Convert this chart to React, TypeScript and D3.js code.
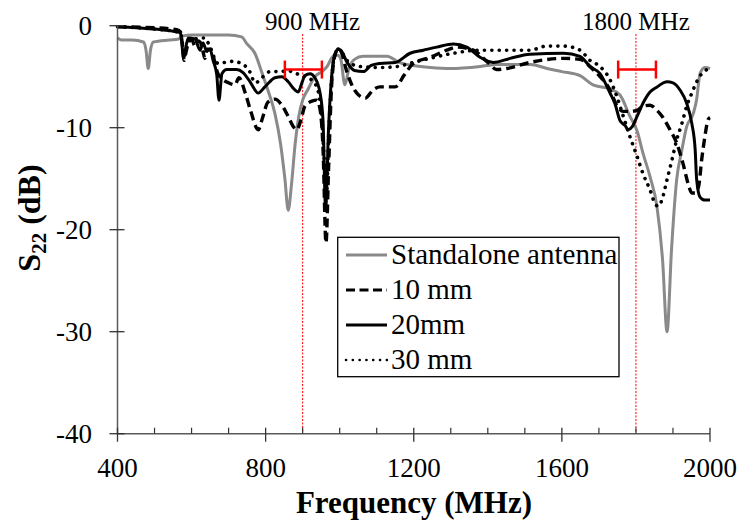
import React from "react";
import * as d3 from "d3";

type Pt = [number, number];

const standalone: Pt[] = [
  [400, -1.2], [410, -1.4], [440, -1.4], [470, -1.6], [477, -2.4], [483, -4.2], [489, -2.4], [497, -1.6],
  [540, -1.4], [565, -1.3], [578, -1.0], [600, -0.9], [700, -0.9], [735, -1.1], [750, -1.8], [771, -2.7],
  [790, -4.6], [806, -6.3], [825, -8.6], [840, -11.5], [852, -15], [861, -18.1], [870, -15.5], [880, -11.5],
  [890, -8.8], [900, -7.3], [915, -6.2], [933, -5.0], [952, -4.5], [966, -4.0], [982, -3.0], [995, -2.9],
  [1003, -3.3], [1014, -5.8], [1025, -4.2], [1040, -3.3], [1063, -3.0], [1128, -3.0], [1160, -3.6],
  [1198, -3.9], [1245, -4.1], [1300, -4.2], [1380, -4.0], [1425, -3.8], [1515, -3.8], [1560, -4.2],
  [1600, -4.5], [1649, -4.9], [1684, -5.8], [1730, -6.2], [1757, -6.8], [1784, -8.9], [1803, -10.3],
  [1819, -12.5], [1838, -14.8], [1857, -17.8], [1872, -23], [1884, -30], [1896, -22], [1910, -15.1],
  [1924, -12.2], [1937, -9.9], [1955, -8.6], [1964, -7.2], [1973, -4.7], [1986, -4.1], [2000, -4.2],
];

const mm10: Pt[] = [
  [400, -0.1], [500, -0.2], [560, -0.4], [570, -0.6], [575, -1.8], [580, -3.4], [585, -2.6], [592, -1.6],
  [601, -1.4], [609, -2.0], [616, -1.5], [623, -1.6], [630, -2.4], [636, -3.2], [642, -2.3], [650, -2.3],
  [660, -3.2], [670, -4.6], [685, -5.3], [700, -5.6], [717, -5.8], [728, -5.1], [745, -6.6], [760, -8.4],
  [780, -10.2], [792, -9.0], [806, -7.5], [825, -7.2], [844, -7.8], [861, -8.9], [875, -9.9], [884, -10.2],
  [895, -9.3], [906, -7.9], [925, -7.4], [938, -7.3], [947, -8.2], [955, -12], [963, -21.3], [970, -14],
  [978, -6], [988, -2.8], [996, -2.3], [1003, -2.5], [1020, -4.6], [1040, -6.3], [1069, -7.1], [1090, -6.3],
  [1109, -6.0], [1150, -6.0], [1175, -4.8], [1199, -3.7], [1244, -3.1], [1289, -2.4], [1316, -2.1], [1361, -2.4],
  [1400, -3.6], [1424, -4.3], [1451, -4.2], [1514, -3.6], [1604, -3.2], [1649, -3.3], [1684, -4.3],
  [1703, -5.0], [1730, -6.3], [1748, -7.8], [1766, -8.4], [1784, -8.4], [1803, -8.3], [1819, -7.9],
  [1838, -7.8], [1857, -8.3], [1873, -9.0], [1892, -10.2], [1910, -11.5], [1927, -13.5], [1941, -15.5],
  [1951, -16.4], [1960, -16.4], [1969, -15.8], [1978, -13], [1986, -10.9], [1995, -9.2], [2000, -9.0],
];

const mm20: Pt[] = [
  [400, -0.1], [450, -0.2], [520, -0.4], [560, -0.6], [570, -0.7], [574, -1.8], [578, -3.2], [583, -2.4],
  [591, -1.2], [609, -1.3], [623, -2.4], [631, -1.7], [641, -2.5], [650, -2.3], [658, -3.4], [668, -4.8],
  [674, -7.3], [682, -4.7], [695, -4.3], [722, -4.3], [739, -4.6], [758, -5.5], [780, -6.6], [798, -6.0],
  [825, -5.1], [844, -5.0], [861, -5.5], [879, -6.3], [888, -6.5], [898, -5.6], [906, -4.9], [920, -4.7],
  [933, -5.1], [947, -6.6], [955, -9.3], [962, -18], [970, -10], [980, -4.3], [988, -2.7], [996, -2.3],
  [1003, -2.4], [1020, -3.6], [1040, -4.4], [1064, -4.5], [1085, -3.9], [1109, -3.7], [1150, -3.6],
  [1190, -2.7], [1226, -2.4], [1262, -2.1], [1307, -1.8], [1343, -2.1], [1379, -3.1], [1415, -3.6],
  [1460, -3.2], [1514, -2.8], [1604, -2.7], [1649, -3.0], [1676, -4.0], [1703, -4.7], [1730, -6.6],
  [1743, -7.6], [1757, -9.3], [1771, -9.8], [1779, -10.2], [1790, -9.9], [1803, -8.9], [1819, -7.6],
  [1838, -6.5], [1857, -6.0], [1884, -5.5], [1900, -5.6], [1919, -6.3], [1937, -7.6], [1951, -9.6],
  [1960, -12.2], [1964, -15.1], [1973, -16.8], [1986, -17.1], [2000, -17.1],
];

const mm30: Pt[] = [
  [400, -0.1], [450, -0.2], [520, -0.4], [560, -0.6], [570, -0.7], [575, -1.6], [580, -3.0], [586, -2.2],
  [595, -1.4], [610, -1.3], [623, -1.2], [636, -1.2], [645, -1.7], [655, -2.5], [664, -3.4], [672, -3.7],
  [690, -3.6], [710, -3.5], [735, -3.7], [757, -4.5], [772, -5.6], [793, -5.0], [812, -4.5], [839, -4.5],
  [861, -4.4], [875, -4.6], [900, -4.9], [920, -5.2], [938, -6.0], [950, -8.5], [958, -13], [964, -17],
  [971, -10], [980, -4.5], [988, -2.7], [996, -2.3], [1003, -2.5], [1025, -3.6], [1055, -4.0], [1109, -4.1],
  [1155, -4.0], [1199, -3.6], [1244, -3.2], [1307, -2.7], [1379, -2.4], [1514, -2.4], [1559, -2.0],
  [1604, -2.0], [1649, -2.4], [1676, -3.4], [1703, -4.0], [1730, -5.3], [1748, -6.9], [1766, -8.9],
  [1784, -10.9], [1803, -12.8], [1819, -14.5], [1838, -16.1], [1851, -17.4], [1860, -17.7], [1870, -17.1],
  [1884, -15.1], [1897, -13.2], [1910, -11.2], [1924, -9.6], [1937, -7.9], [1951, -6.6], [1964, -5.5],
  [1978, -4.7], [1995, -4.3], [2000, -4.3],
];

const xMajorTicks = [400, 800, 1200, 1600, 2000];
const xMinorTicks = [500, 600, 700, 900, 1000, 1100, 1300, 1400, 1500, 1700, 1800, 1900];
const yTicks = [0, -10, -20, -30, -40];
const markerFreqs = [900, 1800];
const markerLabels = ["900 MHz", "1800 MHz"];
const bandRanges: [number, number][] = [[852, 952], [1752, 1854]];
const bandLevel = -4.3;

const legendLabels = ["Standalone antenna", "10 mm", "20mm", "30 mm"];

const FONT = '"Liberation Serif", "Times New Roman", Times, serif';
const tStyle = { fontFamily: FONT };

export default function App() {
  const x = d3.scaleLinear().domain([400, 2000]).range([117.5, 710]);
  const y = d3.scaleLinear().domain([-40, 0]).range([433.7, 25.7]);
  const line = d3
    .line<Pt>()
    .x((d) => x(d[0]))
    .y((d) => y(d[1]))
    .curve(d3.curveMonotoneX);

  const series = [
    { data: standalone, stroke: "#8a8a8a", width: 3, dash: undefined as string | undefined, cap: "butt" },
    { data: mm30, stroke: "#000", width: 3.6, dash: "0.1 7.3", cap: "round" },
    { data: mm20, stroke: "#000", width: 3, dash: undefined, cap: "butt" },
    { data: mm10, stroke: "#000", width: 3.4, dash: "9 5", cap: "butt" },
  ];

  const legendStyles = [
    { stroke: "#8a8a8a", width: 3, dash: undefined as string | undefined, cap: "butt" },
    { stroke: "#000", width: 3.2, dash: "9 4.5", cap: "butt" },
    { stroke: "#000", width: 3.2, dash: undefined, cap: "butt" },
    { stroke: "#000", width: 2.6, dash: "0.1 6.7", cap: "round" },
  ];

  const y0 = y(-40);
  const xL = x(400);

  return (
    <svg
      width={739}
      height={524}
      style={{ position: "absolute", left: 0, top: 0, background: "#fff", fontFamily: FONT }}
    >
      <rect x={0} y={0} width={739} height={524} fill="#fff" />

      {markerFreqs.map((f, i) => (
        <g key={"m" + i}>
          <line x1={x(f)} x2={x(f)} y1={34} y2={y0} stroke="#ff0000" strokeWidth={1} strokeDasharray="2 1.5" />
          <text x={x(f) + (i === 0 ? 10 : 0)} y={30} fontSize={25} textAnchor="middle" fill="#000" style={tStyle}>
            {markerLabels[i]}
          </text>
        </g>
      ))}

      {series.map((s, i) => (
        <path
          key={"s" + i}
          d={line(s.data) || ""}
          fill="none"
          stroke={s.stroke}
          strokeWidth={s.width}
          strokeDasharray={s.dash}
          strokeLinecap={s.cap as any}
          strokeLinejoin="round"
        />
      ))}

      {bandRanges.map((r, i) => (
        <g key={"b" + i} stroke="#ff0000" strokeWidth={2.5}>
          <line x1={x(r[0])} x2={x(r[1])} y1={y(bandLevel)} y2={y(bandLevel)} />
          <line x1={x(r[0])} x2={x(r[0])} y1={y(bandLevel) - 9} y2={y(bandLevel) + 9} />
          <line x1={x(r[1])} x2={x(r[1])} y1={y(bandLevel) - 9} y2={y(bandLevel) + 9} />
        </g>
      ))}

      <line x1={xL} x2={xL} y1={y(0)} y2={y0} stroke="#5a5a5a" strokeWidth={1.5} />
      <line x1={xL} x2={x(2000)} y1={y0} y2={y0} stroke="#5a5a5a" strokeWidth={1.5} />
      {yTicks.map((t) => (
        <g key={"yt" + t}>
          <line x1={xL - 8} x2={xL + 7} y1={y(t)} y2={y(t)} stroke="#333" strokeWidth={1.3} />
          <text x={92} y={y(t) + 9} fontSize={27} textAnchor="end" fill="#000" style={tStyle}>
            {t}
          </text>
        </g>
      ))}
      {xMajorTicks.map((t) => (
        <g key={"xt" + t}>
          <line x1={x(t)} x2={x(t)} y1={y0 - 6} y2={y0 + 8} stroke="#333" strokeWidth={1.3} />
          <text x={x(t)} y={477} fontSize={27} textAnchor="middle" fill="#000" style={tStyle}>
            {t}
          </text>
        </g>
      ))}
      {xMinorTicks.map((t) => (
        <line key={"xm" + t} x1={x(t)} x2={x(t)} y1={y0 - 6} y2={y0} stroke="#333" strokeWidth={1.2} />
      ))}

      <text x={414} y={513} fontSize={31} fontWeight="bold" textAnchor="middle" fill="#000" style={tStyle}>
        Frequency (MHz)
      </text>
      <text
        transform="translate(40,218) rotate(-90)"
        fontSize={32}
        fontWeight="bold"
        textAnchor="middle"
        fill="#000"
        style={tStyle}
      >
        S
        <tspan fontSize={21} dy={6}>
          22
        </tspan>
        <tspan dy={-6}> (dB)</tspan>
      </text>

      <rect x={337.7} y={237.3} width={281.3} height={139.4} fill="#fff" stroke="#000" strokeWidth={1.3} />
      {legendLabels.map((lab, i) => {
        const cy = 255 + i * 35;
        const st = legendStyles[i];
        return (
          <g key={"lg" + i}>
            <line
              x1={346}
              x2={387}
              y1={cy}
              y2={cy}
              stroke={st.stroke}
              strokeWidth={st.width}
              strokeDasharray={st.dash}
              strokeLinecap={st.cap as any}
            />
            <text x={391} y={cy + 9} fontSize={29} fill="#000" style={tStyle}>
              {lab}
            </text>
          </g>
        );
      })}
    </svg>
  );
}
